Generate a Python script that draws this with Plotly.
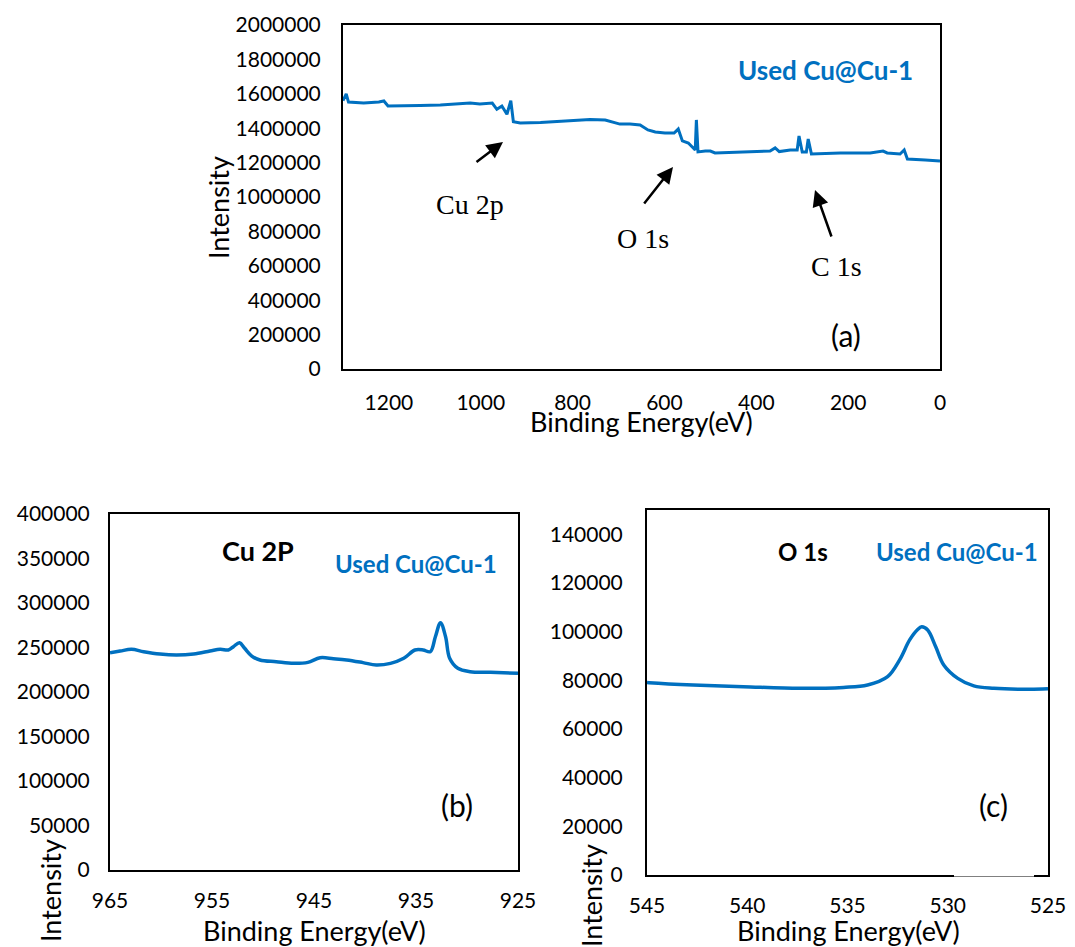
import plotly.graph_objects as go

# ---- Survey spectrum (a) ----
survey_be = [1300, 1293, 1288, 1255, 1222, 1211, 1202, 1167, 1132, 1088, 1045, 1023, 1002,
             975, 965, 954, 943, 934.6, 929, 914, 870, 805, 762, 729, 708, 697, 675, 653,
             636, 620, 599, 579, 570, 561, 548, 537, 533, 530.5, 527, 511, 500, 490, 435,
             370, 359, 350, 326, 311, 307, 300, 291, 287, 280, 217, 152, 124, 115, 87, 78,
             71, 32, 0]
survey_int = [1560000, 1599000, 1552000, 1547000, 1552000, 1558000, 1529000, 1529000, 1532000,
              1535000, 1541000, 1547000, 1541000, 1546000, 1510000, 1529000, 1481000, 1560000,
              1438000, 1430000, 1433000, 1442000, 1451000, 1448000, 1430000, 1424000, 1424000,
              1419000, 1390000, 1378000, 1372000, 1372000, 1395000, 1326000, 1314000, 1279000,
              1273000, 1448000, 1262000, 1267000, 1267000, 1256000, 1262000, 1267000, 1285000,
              1264000, 1273000, 1273000, 1355000, 1262000, 1262000, 1337000, 1250000, 1256000,
              1256000, 1267000, 1256000, 1250000, 1273000, 1221000, 1215000, 1209000]

# ---- Cu 2p region (b) ----
cu_be = [965, 964, 962.9, 961.7, 960.1, 958.5, 956.8, 955.2, 954.2, 953.4, 952.9, 952.3,
         951.8, 951.1, 950.3, 948.7, 947, 945.6, 944.4, 943.1, 941.8, 940.2, 938.9, 937.5,
         936.2, 935.1, 934.3, 933.6, 933.1, 932.6, 932.1, 931.7, 930.9, 929.7, 927.7, 925]
cu_int = [244000, 246000, 248000, 245300, 242700, 241600, 242700, 246000, 248000, 247200,
          250900, 255400, 249100, 240400, 236000, 234000, 232200, 233300, 238500, 237400,
          236000, 233000, 230300, 232200, 237900, 247200, 247200, 245300, 262100, 277900,
          262100, 237900, 226600, 222800, 222100, 221000]

# ---- O 1s region (c) ----
o_be = [545, 544.9, 542.7, 540.2, 537.4, 535.2, 534.0, 533.0, 532.4, 531.9, 531.5, 531.3,
        531.0, 530.6, 530.2, 529.5, 528.7, 527.7, 525.9, 525]
o_int = [79100, 79030, 78080, 77400, 76700, 77100, 78080, 81500, 88400, 96600, 100900,
         102000, 100700, 93800, 86300, 80800, 77700, 76700, 76300, 76500]

W, H = 1075, 947
BLUE = "#0070C0"
FONT = "Lato"


def px(x):
    return x / W


def py(y):
    return 1 - y / H


fig = go.Figure()
fig.add_trace(go.Scatter(x=survey_be, y=survey_int, mode="lines",
                         line=dict(color=BLUE, width=3), xaxis="x", yaxis="y"))
fig.add_trace(go.Scatter(x=cu_be, y=cu_int, mode="lines", line_shape="spline",
                         line=dict(color=BLUE, width=3.5), xaxis="x2", yaxis="y2"))
fig.add_trace(go.Scatter(x=o_be, y=o_int, mode="lines", line_shape="spline",
                         line=dict(color=BLUE, width=3.5), xaxis="x3", yaxis="y3"))

tickfont = dict(family=FONT, size=21, color="black")
axis_common = dict(showline=True, linecolor="black", linewidth=2, mirror=True,
                   showgrid=False, zeroline=False, ticks="", tickfont=tickfont,
                   automargin=False)

fig.update_layout(
    width=W, height=H, margin=dict(l=0, r=0, t=0, b=0, autoexpand=False),
    paper_bgcolor="white", plot_bgcolor="white", showlegend=False,
    xaxis=dict(axis_common, domain=[px(343), px(940)], range=[1300, 0],
               tickvals=[1200, 1000, 800, 600, 400, 200, 0], anchor="y",
               ticklabelstandoff=14),
    yaxis=dict(axis_common, domain=[py(369), py(25)], range=[0, 2000000],
               dtick=200000, tickformat="d", anchor="x", ticklabelstandoff=16),
    xaxis2=dict(axis_common, domain=[px(110), px(518)], range=[965, 925],
                tickvals=[965, 955, 945, 935, 925], anchor="y2", ticklabelstandoff=11),
    yaxis2=dict(axis_common, domain=[py(870), py(514)], range=[0, 400000],
                dtick=50000, tickformat="d", anchor="x2", ticklabelstandoff=14),
    xaxis3=dict(axis_common, domain=[px(647), px(1048)], range=[545, 525],
                tickvals=[545, 540, 535, 530, 525], anchor="y3", ticklabelstandoff=11),
    yaxis3=dict(axis_common, domain=[py(875), py(510)], range=[0, 150000],
                tickvals=[0, 20000, 40000, 60000, 80000, 100000, 120000, 140000],
                tickformat="d", anchor="x3", ticklabelstandoff=18),
)

ann = []


def text(x, y, s, size=20, color="black", bold=False, family=FONT, angle=0):
    ann.append(dict(xref="paper", yref="paper", x=px(x), y=py(y), text=f"<b>{s}</b>" if bold else s,
                    showarrow=False, xanchor="center", yanchor="middle", textangle=angle,
                    font=dict(family=family, size=size, color=color)))


# axis titles
text(641, 421, "Binding Energy(eV)", size=27)
text(314, 930, "Binding Energy(eV)", size=27)
text(848, 930, "Binding Energy(eV)", size=27)
text(218, 208, "Intensity", size=27, angle=-90)
text(50, 891, "Intensity", size=27, angle=-90)
text(591, 896, "Intensity", size=27, angle=-90)

# sample labels
text(825, 70, "Used Cu@Cu-1", size=26, color=BLUE, bold=True)
text(416, 563, "Used Cu@Cu-1", size=24, color=BLUE, bold=True)
text(957, 551, "Used Cu@Cu-1", size=24, color=BLUE, bold=True)
text(258, 550, "Cu 2P", size=27, bold=True)
text(803, 551, "O 1s", size=24, bold=True)

# panel letters
text(846, 335, "(a)", size=30)
text(457, 805, "(b)", size=30)
text(993, 805, "(c)", size=30)

# peak labels in the survey
serif = "Liberation Serif"
text(470, 205, "Cu 2p", size=28, family=serif)
text(643, 238, "O 1s", size=28, family=serif)
text(836, 267, "C 1s", size=28, family=serif)

# arrows (head position, tail offset in pixels)
for hx, hy, tx, ty in [(503, 142, 475, 163), (673, 167, 643, 205), (815, 190, 832, 238)]:
    ann.append(dict(xref="paper", yref="paper", x=px(hx), y=py(hy), text="",
                    showarrow=True, ax=tx - hx, ay=ty - hy, arrowhead=2, arrowsize=1.3,
                    arrowwidth=2.5, arrowcolor="black", standoff=0))

fig.update_layout(annotations=ann)

# small break in the lower axis line of panel (c)
fig.add_shape(type="line", xref="paper", yref="paper", x0=px(954), x1=px(1034),
              y0=py(875), y1=py(875), line=dict(color="white", width=3), layer="above")

fig.write_html("out.html")
